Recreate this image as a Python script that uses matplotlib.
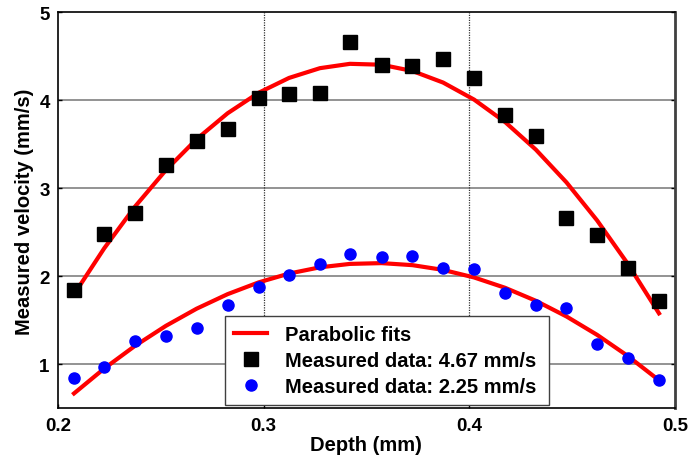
import numpy as np
import matplotlib
matplotlib.use("Agg")
import matplotlib.pyplot as plt

plt.rcParams['font.family'] = ['Liberation Sans', 'DejaVu Sans']
plt.rcParams['font.weight'] = 'bold'

depth = [0.2078, 0.2225, 0.2374, 0.2525, 0.2674, 0.2825, 0.2976, 0.3124, 0.3274, 0.3420,
         0.3574, 0.3724, 0.3873, 0.4024, 0.4175, 0.4324, 0.4473, 0.4622, 0.4770, 0.4923]
vel_high = [1.84, 2.48, 2.72, 3.26, 3.54, 3.67, 4.03, 4.07, 4.08, 4.66,
            4.40, 4.39, 4.47, 4.25, 3.83, 3.59, 2.66, 2.47, 2.09, 1.72]
vel_low = [0.84, 0.97, 1.27, 1.32, 1.41, 1.68, 1.88, 2.02, 2.14, 2.25,
           2.22, 2.23, 2.09, 2.08, 1.81, 1.67, 1.64, 1.23, 1.07, 0.82]

labels = ['Parabolic fits', 'Measured data: 4.67 mm/s', 'Measured data: 2.25 mm/s']
xticks = [0.2, 0.3, 0.4, 0.5]
yticks = [1, 2, 3, 4, 5]

x = np.array(depth)
fit_high = np.polyval(np.polyfit(x, vel_high, 2), x)
fit_low = np.polyval(np.polyfit(x, vel_low, 2), x)

fig = plt.figure(figsize=(6.9, 4.6), dpi=100)
ax = fig.add_axes([0.084, 0.110, 0.894, 0.861])

ax.plot(x, fit_high, color='#ff0000', lw=3.0, label=labels[0], zorder=3)
ax.plot(x, fit_low, color='#ff0000', lw=3.0, zorder=3)
ax.plot(x, vel_high, 's', color='black', ms=9.5, ls='none', label=labels[1], zorder=4)
ax.plot(x, vel_low, 'o', color='#0000ff', ms=8, ls='none', label=labels[2], zorder=4)

ax.set_xlim(0.2, 0.5)
ax.set_ylim(0.5, 5)
ax.set_xticks(xticks)
ax.set_xticklabels([f'{v:g}' for v in xticks])
ax.set_yticks(yticks)

for yv in [1, 2, 3, 4]:
    ax.axhline(yv, color='#808080', lw=1.2, zorder=1)
for xv in [0.3, 0.4]:
    ax.axvline(xv, color='#333333', lw=0.9, ls=(0, (1, 1)), zorder=1)

ax.tick_params(direction='in', length=3, width=1, labelsize=13.5, top=False, right=True)
for lab in ax.get_xticklabels() + ax.get_yticklabels():
    lab.set_fontweight('bold')
ax.tick_params(axis='x', pad=6)
ax.tick_params(axis='y', pad=6)

for s in ax.spines.values():
    s.set_linewidth(1.2)
ax.spines['right'].set_color('#404040')
ax.spines['right'].set_linewidth(2)

ax.set_xlabel('Depth (mm)', fontsize=14.5, fontweight='bold', labelpad=1)
ax.set_ylabel('Measured velocity (mm/s)', fontsize=14.5, fontweight='bold', labelpad=4)

leg = ax.legend(loc='lower left', bbox_to_anchor=(0.271, 0.008, 0.525, 0.227),
                mode='expand', fontsize=14.5, frameon=True, fancybox=False,
                edgecolor='#404040', framealpha=1, borderaxespad=0,
                handlelength=1.65, handletextpad=0.85, labelspacing=0.35, borderpad=0.45)
leg.get_frame().set_linewidth(1.0)
for t in leg.get_texts():
    t.set_fontweight('bold')

fig.savefig('out.png', dpi=100)
